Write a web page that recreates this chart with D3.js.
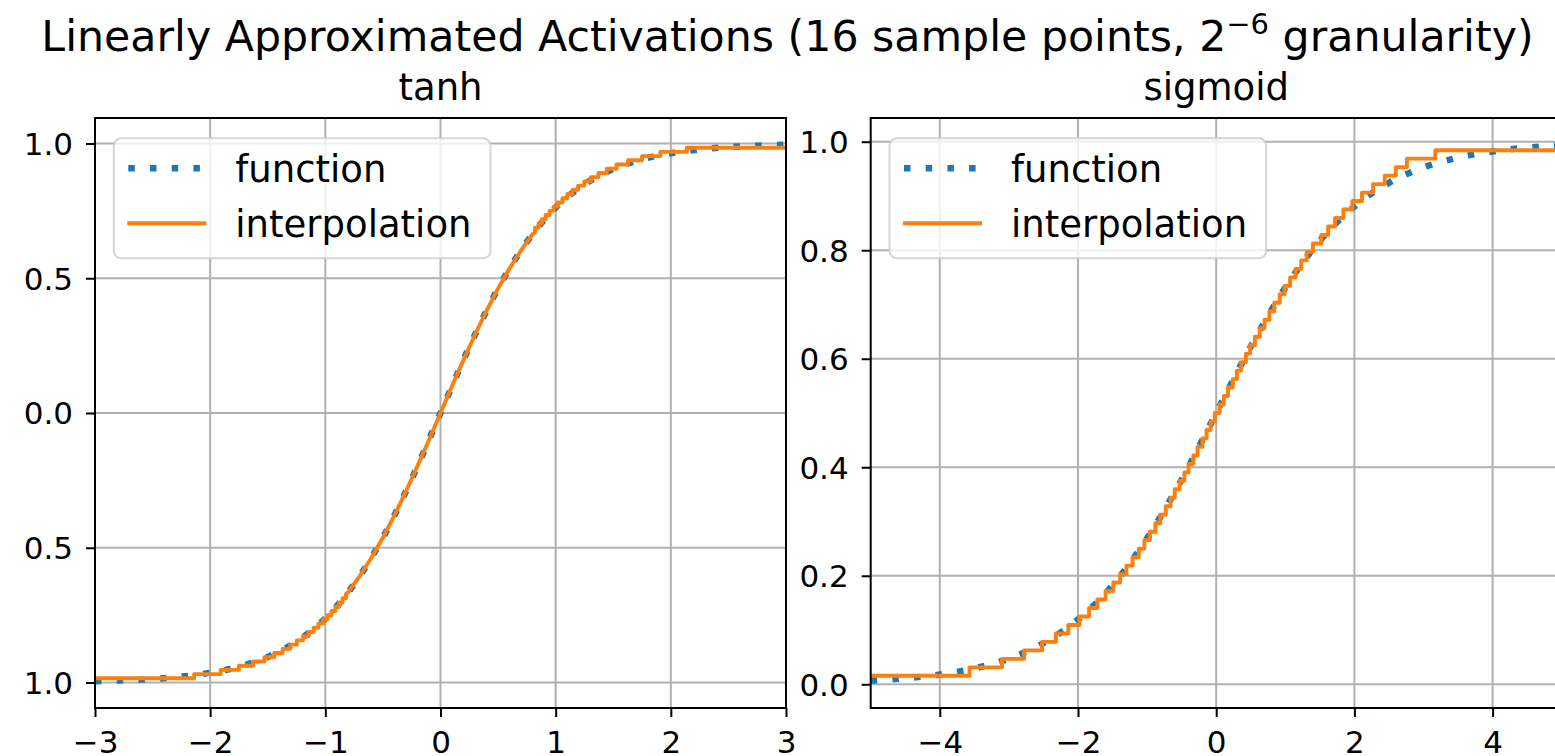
<!DOCTYPE html>
<html>
<head>
<meta charset="utf-8">
<script src="https://cdn.jsdelivr.net/npm/d3@7"></script>
<style>
  html, body { margin: 0; padding: 0; background: #ffffff; overflow: hidden; }
  svg { display: block; font-family: "DejaVu Sans", sans-serif; }
</style>
</head>
<body>
<script>
// ---------- data ----------
// tanh reference curve
const tanhX = [-3, -2.75, -2.5, -2.25, -2, -1.75, -1.5, -1.25, -1, -0.75, -0.5, -0.25, 0,
               0.25, 0.5, 0.75, 1, 1.25, 1.5, 1.75, 2, 2.25, 2.5, 2.75, 3];
const tanhY = [-0.9951, -0.9918, -0.9866, -0.9780, -0.9640, -0.9414, -0.9051, -0.8483, -0.7616, -0.6351, -0.4621, -0.2449, 0,
               0.2449, 0.4621, 0.6351, 0.7616, 0.8483, 0.9051, 0.9414, 0.9640, 0.9780, 0.9866, 0.9918, 0.9951];

// tanh approximation: quantised lower tail (step positions and levels)
const tanhLowStepX = [-2.139, -1.909, -1.750, -1.628, -1.528, -1.444, -1.371, -1.306, -1.248, -1.195,
                      -1.146, -1.101, -1.059, -1.019, -0.982, -0.947, -0.913, -0.881, -0.851, -0.821];
const tanhLowLevels = [-0.984375, -0.96875, -0.953125, -0.9375, -0.921875, -0.90625, -0.890625, -0.875,
                       -0.859375, -0.84375, -0.828125, -0.8125, -0.796875, -0.78125, -0.765625, -0.75,
                       -0.734375, -0.71875, -0.703125, -0.6875, -0.671875];
// tanh approximation: central section
const tanhMidX = [-0.80, -0.70, -0.60, -0.50, -0.40, -0.30, -0.20, -0.10, 0.00,
                  0.10, 0.20, 0.30, 0.40, 0.50, 0.60, 0.70, 0.80];
const tanhMidY = [-0.664, -0.604, -0.537, -0.462, -0.380, -0.291, -0.197, -0.100, 0.000,
                  0.100, 0.197, 0.291, 0.380, 0.462, 0.537, 0.604, 0.664];
// tanh approximation: quantised upper tail
const tanhHighStepX = [0.821, 0.851, 0.881, 0.913, 0.947, 0.982, 1.019, 1.059, 1.101, 1.146,
                       1.195, 1.248, 1.306, 1.371, 1.444, 1.528, 1.628, 1.750, 1.909, 2.139];
const tanhHighLevels = [0.671875, 0.6875, 0.703125, 0.71875, 0.734375, 0.75, 0.765625, 0.78125,
                        0.796875, 0.8125, 0.828125, 0.84375, 0.859375, 0.875, 0.890625, 0.90625,
                        0.921875, 0.9375, 0.953125, 0.96875, 0.984375];

// sigmoid reference curve
const sigX = [-5, -4.5, -4, -3.5, -3, -2.5, -2, -1.5, -1, -0.5, 0,
              0.5, 1, 1.5, 2, 2.5, 3, 3.5, 4, 4.5, 5];
const sigY = [0.0067, 0.0110, 0.0180, 0.0293, 0.0474, 0.0759, 0.1192, 0.1824, 0.2689, 0.3775, 0.5,
              0.6225, 0.7311, 0.8176, 0.8808, 0.9241, 0.9526, 0.9707, 0.9820, 0.9890, 0.9933];

// sigmoid approximation: step positions and quantised levels
const sigStepX = [-3.57, -3.10, -2.78, -2.52, -2.32, -2.14, -1.98, -1.84, -1.72, -1.60,
                  -1.49, -1.39, -1.30, -1.21, -1.12, -1.04, -0.96, -0.88, -0.81, -0.73,
                  -0.66, -0.60, -0.53, -0.46, -0.40, -0.33, -0.27, -0.20, -0.14, -0.08,
                  -0.02, 0.05, 0.11, 0.17, 0.24, 0.30, 0.36, 0.43, 0.49, 0.56,
                  0.63, 0.70, 0.77, 0.84, 0.92, 0.99, 1.07, 1.15, 1.23, 1.31,
                  1.40, 1.52, 1.62, 1.72, 1.84, 1.97, 2.11, 2.27, 2.44, 2.60,
                  2.76, 3.17];
const sigLevels = [0.015625, 0.03125, 0.046875, 0.0625, 0.078125, 0.09375, 0.109375, 0.125,
                   0.140625, 0.15625, 0.171875, 0.1875, 0.203125, 0.21875, 0.234375, 0.25,
                   0.265625, 0.28125, 0.296875, 0.3125, 0.328125, 0.34375, 0.359375, 0.375,
                   0.390625, 0.40625, 0.421875, 0.4375, 0.453125, 0.46875, 0.484375, 0.5,
                   0.515625, 0.53125, 0.546875, 0.5625, 0.578125, 0.59375, 0.609375, 0.625,
                   0.640625, 0.65625, 0.671875, 0.6875, 0.703125, 0.71875, 0.734375, 0.75,
                   0.765625, 0.78125, 0.796875, 0.8125, 0.828125, 0.84375, 0.859375, 0.875,
                   0.890625, 0.90625, 0.921875, 0.9375, 0.953125, 0.96875, 0.984375];

// ticks
const tanhXTicks = [-3, -2, -1, 0, 1, 2, 3];
const tanhXTickLabels = ["−3", "−2", "−1", "0", "1", "2", "3"];
const tanhYTicks = [-1, -0.5, 0, 0.5, 1];
const tanhYTickLabels = ["1.0", "0.5", "0.0", "0.5", "1.0"];
const sigXTicks = [-4, -2, 0, 2, 4];
const sigXTickLabels = ["−4", "−2", "0", "2", "4"];
const sigYTicks = [0, 0.2, 0.4, 0.6, 0.8, 1.0];
const sigYTickLabels = ["0.0", "0.2", "0.4", "0.6", "0.8", "1.0"];

const legendLabels = ["function", "interpolation"];

// ---------- style ----------
const W = 1555, H = 756;
const BLUE = "#1f77b4", ORANGE = "#ff7f0e", GRID = "#b0b0b0";
const TICK_FS = 31, LABEL_FS = 37, TITLE_FS = 42.7;

const svg = d3.select("body").append("svg")
  .attr("width", W).attr("height", H)
  .attr("viewBox", `0 0 ${W} ${H}`);
svg.append("rect").attr("width", W).attr("height", H).attr("fill", "#ffffff");

// build a staircase polyline from step positions and the levels between them
function stairs(stepX, levels, xStart, xEnd) {
  const pts = [];
  if (xStart !== null) pts.push([xStart, levels[0]]);
  stepX.forEach((sx, i) => {
    pts.push([sx, levels[i]]);
    pts.push([sx, levels[i + 1]]);
  });
  if (xEnd !== null) pts.push([xEnd, levels[levels.length - 1]]);
  return pts;
}

const tanhInterp = [
  ...stairs(tanhLowStepX, tanhLowLevels, -3, null),
  ...tanhMidX.map((x, i) => [x, tanhMidY[i]]),
  ...stairs(tanhHighStepX, tanhHighLevels, null, 3)
];
const sigInterp = stairs(sigStepX, sigLevels, -5, 5);

const panels = [
  {
    id: "tanh", title: "tanh",
    left: 95, right: 786, top: 118, bottom: 708,
    xDomain: [-3, 3], yDomain: [-1.0945, 1.0945],
    fx: tanhX, fy: tanhY, interp: tanhInterp,
    xTicks: tanhXTicks, xLabels: tanhXTickLabels,
    yTicks: tanhYTicks, yLabels: tanhYTickLabels
  },
  {
    id: "sigmoid", title: "sigmoid",
    left: 870.7, right: 1561.7, top: 118, bottom: 708,
    xDomain: [-5, 5], yDomain: [-0.0437, 1.0437],
    fx: sigX, fy: sigY, interp: sigInterp,
    xTicks: sigXTicks, xLabels: sigXTickLabels,
    yTicks: sigYTicks, yLabels: sigYTickLabels
  }
];

panels.forEach(p => {
  const x = d3.scaleLinear().domain(p.xDomain).range([p.left, p.right]);
  const y = d3.scaleLinear().domain(p.yDomain).range([p.bottom, p.top]);
  const g = svg.append("g").attr("class", "panel-" + p.id);

  g.append("clipPath").attr("id", "clip-" + p.id)
    .append("rect")
    .attr("x", p.left).attr("y", p.top)
    .attr("width", p.right - p.left).attr("height", p.bottom - p.top);

  // grid
  const grid = g.append("g").attr("class", "grid");
  grid.selectAll("line.gx").data(p.xTicks).join("line")
    .attr("class", "gx")
    .attr("x1", d => x(d)).attr("x2", d => x(d))
    .attr("y1", p.top).attr("y2", p.bottom)
    .attr("stroke", GRID).attr("stroke-width", 2);
  grid.selectAll("line.gy").data(p.yTicks).join("line")
    .attr("class", "gy")
    .attr("x1", p.left).attr("x2", p.right)
    .attr("y1", d => y(d)).attr("y2", d => y(d))
    .attr("stroke", GRID).attr("stroke-width", 2);

  // curves
  const plot = g.append("g").attr("clip-path", `url(#clip-${p.id})`);
  const fnLine = d3.line().x(d => x(d[0])).y(d => y(d[1])).curve(d3.curveMonotoneX);
  const stepLine = d3.line().x(d => x(d[0])).y(d => y(d[1]));

  plot.append("path")
    .attr("d", fnLine(p.fx.map((v, i) => [v, p.fy[i]])))
    .attr("fill", "none").attr("stroke", BLUE)
    .attr("stroke-width", 6.5).attr("stroke-dasharray", "6.5 15.2")
    .attr("stroke-linecap", "butt");
  plot.append("path")
    .attr("d", stepLine(p.interp))
    .attr("fill", "none").attr("stroke", ORANGE)
    .attr("stroke-width", 3.9).attr("stroke-linejoin", "round")
    .attr("stroke-linecap", "square");

  // axes
  const xAxis = d3.axisBottom(x).tickValues(p.xTicks)
    .tickFormat((d, i) => p.xLabels[i]).tickSize(9).tickSizeOuter(0);
  const yAxis = d3.axisLeft(y).tickValues(p.yTicks)
    .tickFormat((d, i) => p.yLabels[i]).tickSize(9).tickSizeOuter(0);

  const gx = g.append("g").attr("transform", `translate(0,${p.bottom})`).call(xAxis);
  const gy = g.append("g").attr("transform", `translate(${p.left},0)`).call(yAxis);
  [gx, gy].forEach(a => {
    a.select(".domain").remove();
    a.selectAll(".tick line").attr("stroke", "#000").attr("stroke-width", 2);
    a.selectAll(".tick text")
      .attr("fill", "#000")
      .style("font-family", "'DejaVu Sans', sans-serif")
      .style("font-size", TICK_FS + "px");
  });
  gx.selectAll(".tick text").attr("y", 45).attr("dy", null);
  gy.selectAll(".tick text").attr("x", -22).attr("dy", "0.35em");

  // spines
  g.append("rect")
    .attr("x", p.left).attr("y", p.top)
    .attr("width", p.right - p.left).attr("height", p.bottom - p.top)
    .attr("fill", "none").attr("stroke", "#000").attr("stroke-width", 2);

  // panel title
  g.append("text")
    .attr("x", (p.left + p.right) / 2).attr("y", 100)
    .attr("text-anchor", "middle")
    .style("font-size", LABEL_FS + "px")
    .text(p.title);

  // legend
  const lg = g.append("g").attr("transform", `translate(${p.left + 18.8},138.3)`);
  lg.append("rect")
    .attr("width", 376.7).attr("height", 120).attr("rx", 7.4).attr("ry", 7.4)
    .attr("fill", "#ffffff").attr("fill-opacity", 0.8)
    .attr("stroke", "#cccccc").attr("stroke-opacity", 0.8).attr("stroke-width", 2);
  lg.append("line")
    .attr("x1", 14.5).attr("x2", 88.5).attr("y1", 30).attr("y2", 30)
    .attr("stroke", BLUE).attr("stroke-width", 6.5)
    .attr("stroke-dasharray", "6.5 15.2");
  lg.append("line")
    .attr("x1", 13.5).attr("x2", 92.5).attr("y1", 85).attr("y2", 85)
    .attr("stroke", ORANGE).attr("stroke-width", 3.9);
  lg.selectAll("text.lab").data(legendLabels).join("text")
    .attr("class", "lab")
    .attr("x", 121.5).attr("y", (d, i) => 43.4 + i * 55)
    .style("font-size", LABEL_FS + "px")
    .text(d => d);
});

// figure title with superscript exponent
const title = svg.append("text")
  .attr("x", 787.5).attr("y", 51)
  .attr("text-anchor", "middle")
  .style("font-size", TITLE_FS + "px");
title.append("tspan").text("Linearly Approximated Activations (16 sample points, 2");
title.append("tspan").attr("dy", -17).style("font-size", "29px").text("−6");
title.append("tspan").attr("dy", 17).style("font-size", TITLE_FS + "px").text(" granularity)");
</script>
</body>
</html>
